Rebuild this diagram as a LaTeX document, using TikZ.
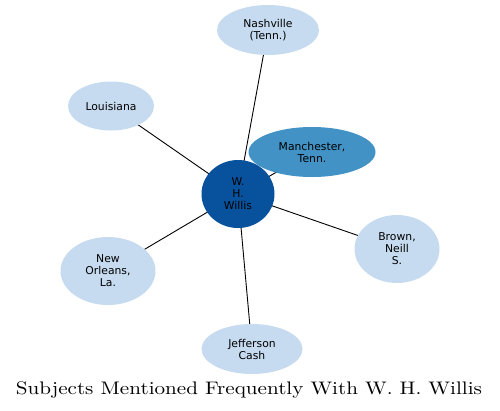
\documentclass[tikz,border=0pt]{standalone}
\usepackage{fontspec}
\setsansfont{DejaVu Sans}
\usetikzlibrary{shapes.geometric,backgrounds}
\definecolor{lightb}{HTML}{C6DBEF}
\definecolor{midb}{HTML}{4292C6}
\definecolor{darkb}{HTML}{08519C}
\begin{document}
\begin{tikzpicture}[x=1pt,y=-1pt,
  ent/.style={ellipse, fill=lightb, inner sep=0pt, align=center,
    font=\sffamily\fontsize{10.8}{12}\selectfont, text=black},
  edge/.style={line width=0.9pt, black}]
\useasboundingbox (0,0) rectangle (500,410);
\node[ent, minimum width=102pt, minimum height=50pt] (nash) at (268,30) {Nashville\\(Tenn.)};
\node[ent, minimum width=86pt, minimum height=49pt] (lou) at (111,106) {Louisiana};
\node[ent, fill=midb, minimum width=127pt, minimum height=50pt] (man) at (312,152) {Manchester,\\Tenn.};
\node[ent, minimum width=85pt, minimum height=68pt] (brown) at (397,249) {Brown,\\Neill\\S.};
\node[ent, minimum width=95pt, minimum height=68pt] (no) at (108,271) {New\\Orleans,\\La.};
\node[ent, minimum width=101pt, minimum height=50pt] (jc) at (252,349) {Jefferson\\Cash};
\node[ent, fill=darkb, minimum width=73pt, minimum height=68pt] (w) at (238,194) {W.\\H.\\Willis};
\node[anchor=base, inner sep=0pt] (title) at (249,394) {\resizebox{466pt}{12.8pt}{\fontsize{10}{12}\selectfont Subjects Mentioned Frequently With W. H. Willis}};
\begin{pgfonlayer}{background}
\foreach \n in {nash,lou,man,brown,no,jc}
  \draw[edge] (w.center) -- (\n.center);
\end{pgfonlayer}
\end{tikzpicture}
\end{document}
